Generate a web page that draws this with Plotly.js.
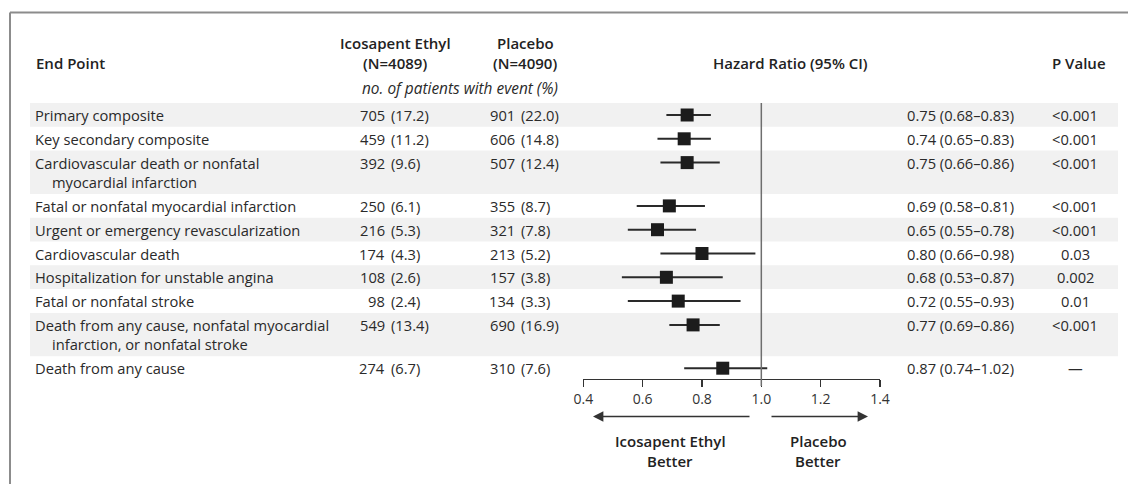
<!DOCTYPE html>
<html>
<head>
<meta charset="utf-8">
<script src="https://cdn.plot.ly/plotly-3.0.1.min.js"></script>
<style>html,body{margin:0;padding:0;background:#fff;}#chart{width:1128px;height:484px;}</style>
</head>
<body>
<div id="chart"></div>
<script>
// ---------- data ----------
const endpointLines = [
  ["Primary composite"],
  ["Key secondary composite"],
  ["Cardiovascular death or nonfatal", "myocardial infarction"],
  ["Fatal or nonfatal myocardial infarction"],
  ["Urgent or emergency revascularization"],
  ["Cardiovascular death"],
  ["Hospitalization for unstable angina"],
  ["Fatal or nonfatal stroke"],
  ["Death from any cause, nonfatal myocardial", "infarction, or nonfatal stroke"],
  ["Death from any cause"]
];
const icoN   = [705, 459, 392, 250, 216, 174, 108, 98, 549, 274];
const icoPct = [17.2, 11.2, 9.6, 6.1, 5.3, 4.3, 2.6, 2.4, 13.4, 6.7];
const plaN   = [901, 606, 507, 355, 321, 213, 157, 134, 690, 310];
const plaPct = [22.0, 14.8, 12.4, 8.7, 7.8, 5.2, 3.8, 3.3, 16.9, 7.6];
const hr     = [0.75, 0.74, 0.75, 0.69, 0.65, 0.80, 0.68, 0.72, 0.77, 0.87];
const ciLo   = [0.68, 0.65, 0.66, 0.58, 0.55, 0.66, 0.53, 0.55, 0.69, 0.74];
const ciHi   = [0.83, 0.83, 0.86, 0.81, 0.78, 0.98, 0.87, 0.93, 0.86, 1.02];
const pValues = ["<0.001", "<0.001", "<0.001", "<0.001", "<0.001", "0.03", "0.002", "0.01", "<0.001", "\u2014"];
const tickVals = [0.4, 0.6, 0.8, 1.0, 1.2, 1.4];
const tickLabels = ["0.4", "0.6", "0.8", "1.0", "1.2", "1.4"];

// ---------- layout helpers ----------
const W = 1128, H = 484;
const px = v => v / W;
const FONT = "Open Sans";
const TXT = "#2a2a2a";
const BODY = 14.7;
const rowTop0 = 103, rowH = 23.8, lineStep = 19.5;

const rowTops = [], rowCenters = [], rowBottoms = [];
let yCur = rowTop0;
endpointLines.forEach(lines => {
  const h = rowH + lineStep * (lines.length - 1);
  rowTops.push(yCur);
  rowCenters.push(yCur + 12);
  yCur += h;
  rowBottoms.push(yCur);
});
const axisY = 379;

const shapes = [];
const annotations = [];

// frame
shapes.push({type: "line", xref: "paper", yref: "y", x0: px(10), x1: 1, y0: 12.5, y1: 12.5, line: {color: "#8c8c8c", width: 2}});
shapes.push({type: "line", xref: "paper", yref: "y", x0: px(10), x1: px(10), y0: 12.5, y1: H, line: {color: "#8c8c8c", width: 2}});

// stripes
rowTops.forEach((t, i) => {
  if (i % 2 === 0) {
    shapes.push({type: "rect", xref: "paper", yref: "y", x0: px(30), x1: px(1118), y0: t, y1: rowBottoms[i],
      fillcolor: "#f1f1f1", line: {width: 0}, layer: "below"});
  }
});

// reference line at HR = 1
shapes.push({type: "line", xref: "x", yref: "y", x0: 1.0, x1: 1.0, y0: 103, y1: axisY + 7, line: {color: "#6e6e6e", width: 1.5}});

function ann(text, x, y, opts) {
  annotations.push(Object.assign({
    text: text, xref: "paper", yref: "y", x: px(x), y: y, showarrow: false,
    xanchor: "left", yanchor: "middle",
    font: {family: FONT, size: BODY, color: TXT}
  }, opts || {}));
}
const bold = extra => Object.assign({font: {family: FONT, size: 15, color: "#222", weight: 600}}, extra || {});

// headers
ann("End Point", 34, 63, bold());
ann("Icosapent Ethyl", 395, 43, bold({xanchor: "center"}));
ann("(N=4089)", 395, 63, bold({xanchor: "center"}));
ann("Placebo", 525, 43, bold({xanchor: "center"}));
ann("(N=4090)", 525, 63, bold({xanchor: "center"}));
ann("Hazard Ratio (95% CI)", 790, 63, bold({xanchor: "center"}));
ann("P Value", 1079, 63, bold({xanchor: "center"}));
ann("<i>no. of patients with event (%)</i>", 460, 88, {xanchor: "center", font: {family: FONT, size: 15.4, color: TXT}});

// rows
endpointLines.forEach((lines, i) => {
  const c = rowCenters[i];
  lines.forEach((ln, k) => ann(ln, k === 0 ? 33 : 50, c + k * lineStep));
  ann(String(icoN[i]), 386.5, c, {xanchor: "right"});
  ann("(" + icoPct[i].toFixed(1) + ")", 389, c);
  ann(String(plaN[i]), 516.5, c, {xanchor: "right"});
  ann("(" + plaPct[i].toFixed(1) + ")", 519, c);
  ann(hr[i].toFixed(2) + " (" + ciLo[i].toFixed(2) + "\u2013" + ciHi[i].toFixed(2) + ")", 905, c);
  ann(pValues[i], 1075, c, {xanchor: "center"});
});

// arrows
annotations.push({xref: "paper", yref: "y", x: px(593), y: 416.5, ax: 158, ay: 0, text: "", showarrow: true,
  arrowhead: 2, arrowsize: 1.3, arrowwidth: 1.6, arrowcolor: "#333"});
annotations.push({xref: "paper", yref: "y", x: px(868), y: 416.5, ax: -98, ay: 0, text: "", showarrow: true,
  arrowhead: 2, arrowsize: 1.3, arrowwidth: 1.6, arrowcolor: "#333"});
ann("Icosapent Ethyl", 670, 441, bold({xanchor: "center"}));
ann("Better", 670, 461, bold({xanchor: "center"}));
ann("Placebo", 818, 441, bold({xanchor: "center"}));
ann("Better", 818, 461, bold({xanchor: "center"}));

const trace = {
  type: "scatter", mode: "markers",
  x: hr, y: rowCenters,
  marker: {symbol: "square", size: 13, color: "#1c1c1c"},
  error_x: {type: "data", symmetric: false,
    array: hr.map((v, i) => ciHi[i] - v),
    arrayminus: hr.map((v, i) => v - ciLo[i]),
    color: "#2a2a2a", thickness: 2, width: 0},
  cliponaxis: false, hoverinfo: "skip"
};

const layout = {
  width: W, height: H,
  margin: {l: 0, r: 0, t: 0, b: 0, pad: 0},
  paper_bgcolor: "#ffffff", plot_bgcolor: "rgba(0,0,0,0)",
  showlegend: false,
  xaxis: {
    domain: [px(583.3), px(880)], range: [0.4, 1.4],
    anchor: "free", position: 1 - axisY / H,
    tickvals: tickVals, ticktext: tickLabels,
    ticks: "outside", ticklen: 7, tickwidth: 1.3, tickcolor: "#333",
    showline: true, linecolor: "#333", linewidth: 1.3,
    showgrid: false, zeroline: false,
    tickfont: {family: FONT, size: 14, color: "#333"}, fixedrange: true
  },
  yaxis: {domain: [0, 1], range: [H, 0], visible: false, fixedrange: true},
  shapes: shapes,
  annotations: annotations
};

Plotly.newPlot("chart", [trace], layout, {displayModeBar: false, staticPlot: true});
</script>
</body>
</html>
